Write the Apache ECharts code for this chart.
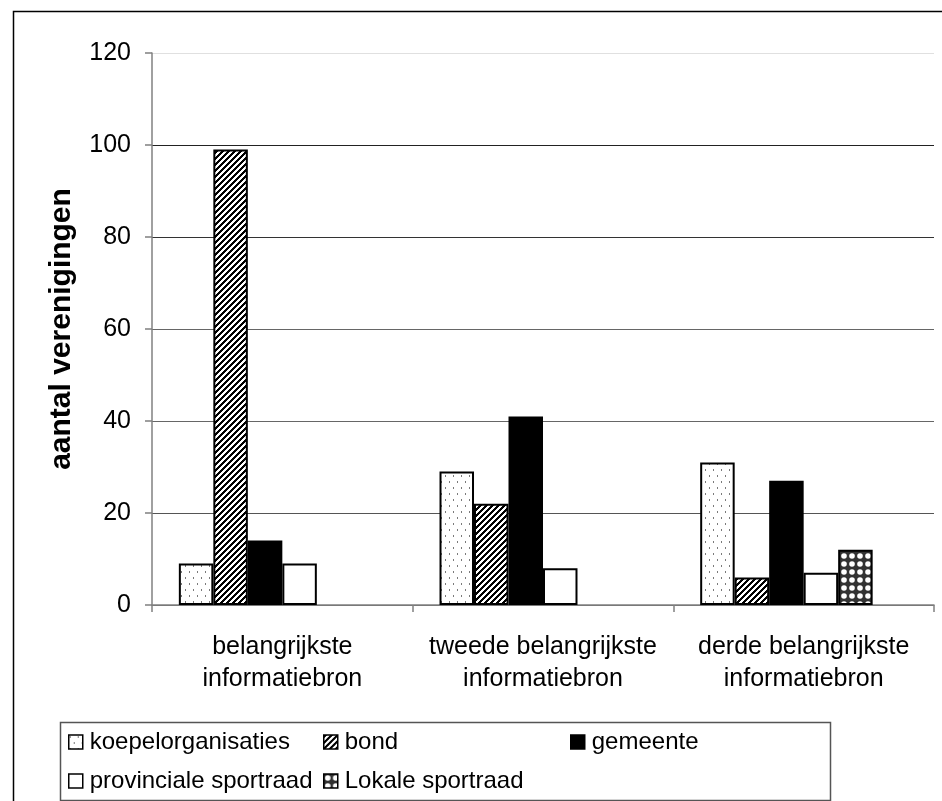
<!DOCTYPE html>
<html>
<head>
<meta charset="utf-8">
<script src="https://cdn.jsdelivr.net/npm/echarts@6/dist/echarts.min.js"></script>
<style>
html,body{margin:0;padding:0;background:#fff;}
#chart{width:942px;height:801px;}
</style>
</head>
<body>
<div id="chart"></div>
<script>
const categories = ['belangrijkste\ninformatiebron', 'tweede belangrijkste\ninformatiebron', 'derde belangrijkste\ninformatiebron'];
const seriesNames = ['koepelorganisaties', 'bond', 'gemeente', 'provinciale sportraad', 'Lokale sportraad'];
const koepelorganisaties = [9, 29, 31];
const bond = [99, 22, 6];
const gemeente = [14, 41, 27];
const provinciale = [9, 8, 7];
const lokale = [null, null, 12];
const emptySlot = [null, null, null];
const yTicks = [0, 20, 40, 60, 80, 100, 120];

function makeCanvas(w, h, draw) {
  const c = document.createElement('canvas');
  c.width = w; c.height = h;
  const ctx = c.getContext('2d');
  draw(ctx, w, h);
  return c;
}
const dotPattern = makeCanvas(8, 12, (ctx, w, h) => {
  ctx.fillStyle = '#fff'; ctx.fillRect(0, 0, w, h);
  ctx.fillStyle = '#7a7a7a';
  ctx.fillRect(1, 1, 1, 2);
  ctx.fillRect(5, 7, 1, 2);
});
const hatchPattern = makeCanvas(6, 6, (ctx, w, h) => {
  const img = ctx.createImageData(w, h);
  for (let y = 0; y < h; y++) for (let x = 0; x < w; x++) {
    const i = (y * w + x) * 4;
    const black = ((x + y) % 6) < 3;
    const v = black ? 0 : 255;
    img.data[i] = v; img.data[i + 1] = v; img.data[i + 2] = v; img.data[i + 3] = 255;
  }
  ctx.putImageData(img, 0, 0);
});
const checkPattern = makeCanvas(8, 8, (ctx, w, h) => {
  ctx.fillStyle = '#333'; ctx.fillRect(0, 0, w, h);
  ctx.fillStyle = '#fff';
  ctx.beginPath(); ctx.arc(4, 4, 2.8, 0, Math.PI * 2); ctx.fill();
});

const fills = [
  { image: dotPattern, repeat: 'repeat' },
  { image: hatchPattern, repeat: 'repeat' },
  '#000',
  '#fff',
  { image: checkPattern, repeat: 'repeat' }
];
const dataArr = [koepelorganisaties, bond, gemeente, provinciale, lokale];
const FONT = 'Liberation Sans, Arial, sans-serif';

const series = seriesNames.map((n, i) => ({
  name: n,
  type: 'bar',
  data: dataArr[i],
  barGap: '0%',
  barCategoryGap: '20.6%',
  itemStyle: { color: fills[i], borderColor: '#000', borderWidth: 2 },
  emphasis: { disabled: true }
}));
series.push({
  name: 'spacer', type: 'bar', data: emptySlot, barGap: '0%', barCategoryGap: '20.6%',
  itemStyle: { color: 'transparent' }, silent: true
});

const legendPos = [
  { left: 68, top: 730 },
  { left: 323, top: 730 },
  { left: 570, top: 730 },
  { left: 68, top: 769 },
  { left: 323, top: 769 }
];
const legends = seriesNames.map((n, i) => ({
  data: [n],
  left: legendPos[i].left,
  top: legendPos[i].top,
  padding: 0,
  icon: 'rect',
  itemWidth: 14,
  itemHeight: 14,
  itemGap: 0,
  selectedMode: false,
  itemStyle: { borderColor: '#000', borderWidth: 1.5 },
  textStyle: { fontFamily: FONT, fontSize: 24, color: '#000', padding: [0, 0, 0, 2] }
}));

const chart = echarts.init(document.getElementById('chart'), null, { renderer: 'canvas' });
chart.setOption({
  animation: false,
  backgroundColor: '#fff',
  grid: { left: 152, right: 8, top: 53, bottom: 196, containLabel: false },
  legend: legends,
  xAxis: {
    type: 'category',
    data: categories,
    axisLine: { lineStyle: { color: '#808080', width: 1.5 } },
    axisTick: { show: true, length: 7, lineStyle: { color: '#808080', width: 1.5 } },
    axisLabel: { interval: 0, fontFamily: FONT, fontSize: 25, color: '#000', margin: 26, lineHeight: 32 }
  },
  yAxis: {
    type: 'value',
    min: 0, max: 120, interval: 20,
    name: 'aantal verenigingen',
    nameLocation: 'middle',
    nameRotate: 90,
    nameGap: 75,
    nameTextStyle: { fontFamily: FONT, fontSize: 30, fontWeight: 'bold', color: '#000' },
    axisLine: { show: true, lineStyle: { color: '#808080', width: 1.5 } },
    axisTick: { show: true, length: 7, lineStyle: { color: '#808080', width: 1.5 } },
    axisLabel: { fontFamily: FONT, fontSize: 25, color: '#000', margin: 21, formatter: v => yTicks.includes(v) ? String(v) : '' },
    splitLine: { show: true, lineStyle: { color: ['#666', '#555', '#666', '#666', '#333', '#222', '#e0e0e0'], width: 1 } }
  },
  graphic: [
    { type: 'rect', left: 11, top: 9, shape: { width: 960, height: 820 }, style: { fill: null, stroke: '#000', lineWidth: 1.5 }, silent: true, z: 100 },
    { type: 'rect', left: 58, top: 720, shape: { width: 770, height: 78 }, style: { fill: null, stroke: '#555', lineWidth: 1.5 }, silent: true, z: 100 }
  ],
  series: series
});
</script>
</body>
</html>
